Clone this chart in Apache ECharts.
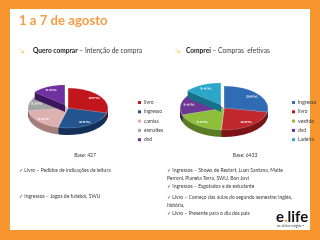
<!DOCTYPE html>
<html>
<head>
<meta charset="utf-8">
<script src="https://cdn.jsdelivr.net/npm/echarts@6/dist/echarts.min.js"></script>
<style>
  body { margin: 0; }
  #main { position: absolute; left: 0; top: 0; width: 320px; height: 240px; }
  .pie { position: absolute; top: 70px; height: 180px; transform-origin: 0 0; transform: scaleY(0.5); }
  #pieLeft { left: 20px; width: 100px; }
  #pieRight { left: 170px; width: 110px; }
</style>
</head>
<body>
<div id="main"></div>
<div id="pieLeft" class="pie"></div>
<div id="pieRight" class="pie"></div>
<script>
// Quero comprar
const leftNames = ['livro', 'ingresso', 'camisa', 'esmaltes', 'dvd'];
const leftValues = [29, 25, 19, 13, 14];
const leftTop = ['#c2161d', '#24548f', '#ddb1b0', '#a5a5a5', '#7030a0'];
const leftSide = ['#760b0f', '#14315a', '#a57d7c', '#4a4a4a', '#3e185e'];

// Comprei
const rightNames = ['Ingresso', 'livro', 'vestido', 'dvd', 'Ladeira'];
const rightValues = [28, 23, 19, 16, 14];
const rightTop = ['#2f6cb4', '#c1282d', '#8dbf3d', '#6b3995', '#2ba8c9'];
const rightSide = ['#1b4476', '#7c1418', '#5a7c24', '#40215c', '#16718a'];

const font = 'Lato, "Open Sans", sans-serif';
const orange = '#f7962f';
const textColor = '#3a3a3a';

function items(names, values, colors, selectLast) {
    return names.map((n, i) => ({
        name: n,
        value: values[i],
        selected: selectLast && i === names.length - 1,
        itemStyle: { color: colors[i] }
    }));
}

function pieOption(names, values, top, side, cx, cy, r) {
    let series = [];
    // side of the 3D pie, drawn as layers going down
    for (let k = 14; k > 0; k -= 2) {
        series.push({
            type: 'pie', radius: r, center: [cx, cy + k],
            startAngle: 90, selectedMode: 'multiple', selectedOffset: 7,
            label: { show: false }, labelLine: { show: false },
            silent: true, animation: false,
            data: items(names, values, side, true)
        });
    }
    series.push({
        type: 'pie', radius: r, center: [cx, cy],
        startAngle: 90, selectedMode: 'multiple', selectedOffset: 7,
        label: { show: false }, labelLine: { show: false },
        itemStyle: { borderColor: 'rgba(255,255,255,0.6)', borderWidth: 0.6 },
        silent: true, animation: false,
        data: items(names, values, top, true)
    });
    // labels only
    series.push({
        type: 'pie', radius: [r * 0.5, r], center: [cx, cy],
        startAngle: 90, selectedMode: 'multiple', selectedOffset: 7,
        label: { show: true, position: 'inside', formatter: '{c}%', color: '#fff', fontSize: 6, fontFamily: font, fontWeight: 'bold' },
        labelLine: { show: false },
        itemStyle: { color: 'transparent' },
        silent: true, animation: false,
        data: items(names, values, names.map(() => 'transparent'), true)
    });
    return { series };
}

echarts.init(document.getElementById('pieLeft')).setOption(
    pieOption(leftNames, leftValues, leftTop, leftSide, 48, 76, 40));
echarts.init(document.getElementById('pieRight')).setOption(
    pieOption(rightNames, rightValues, rightTop, rightSide, 54, 76, 44));

// main canvas: frame, texts, legends
const main = echarts.init(document.getElementById('main'));

function txt(x, y, text, extra) {
    return {
        type: 'text', x: x, y: y,
        style: Object.assign({ text: text, fill: textColor, fontSize: 5, fontFamily: font, verticalAlign: 'middle' }, extra || {})
    };
}

function legendOf(names, left) {
    return {
        orient: 'vertical', left: left, top: 95,
        icon: 'rect', itemWidth: 3, itemHeight: 3, itemGap: 4.3,
        textStyle: { fontSize: 5, color: textColor, fontFamily: font, padding: [0, 0, 0, -2] },
        data: names
    };
}

main.setOption({
    backgroundColor: orange,
    legend: [legendOf(leftNames, 133), legendOf(rightNames, 287)],
    series: [
        { type: 'pie', radius: 0, center: [-50, -50], label: { show: false }, silent: true, animation: false,
          data: items(leftNames, leftValues, leftTop, false) },
        { type: 'pie', radius: 0, center: [-50, -50], label: { show: false }, silent: true, animation: false,
          data: items(rightNames, rightValues, rightTop, false) }
    ],
    graphic: [
        { type: 'rect', shape: { x: 10, y: 9, width: 300, height: 221 }, style: { fill: '#fff' }, z: -1 },
        txt(19, 21, '1 a 7 de agosto', { fill: '#f29c45', fontSize: 13.2, fontWeight: 'bold' }),
        txt(19, 51, '\u2198', { fill: '#f2c23c', fontSize: 7 }),
        txt(33, 51, '{b|Quero comprar} \u2013 Intenção de compra', {
            fontSize: 6.6, rich: { b: { fontWeight: 'bold', fontSize: 6.6, fontFamily: font, fill: '#1a1a1a' } }
        }),
        txt(175, 51, '\u2198', { fill: '#f2c23c', fontSize: 7 }),
        txt(186, 51, '{b|Comprei} \u2013 Compras  efetivas', {
            fontSize: 6.6, rich: { b: { fontWeight: 'bold', fontSize: 6.6, fontFamily: font, fill: '#1a1a1a' } }
        }),
        txt(85, 155, 'Base: 427', { align: 'center' }),
        txt(245, 155, 'Base: 6433', { align: 'center' }),
        txt(19, 170, '\u2713 Livro \u2013 Pedidos de indicações de leitura'),
        txt(19, 196, '\u2713 Ingressos \u2013 Jogos de futebol, SWU'),
        txt(167, 170, '\u2713 Ingressos \u2013 Shows de Restart, Luan Santana, Maite'),
        txt(167, 178, 'Perroni, Planeta Terra, SWU, Bon Jovi'),
        txt(167, 186, '\u2713 Ingressos \u2013 Esgotados e de estudante'),
        txt(167, 197, '\u2713 Livro \u2013 Começo das aulas do segundo semestre: inglês,'),
        txt(167, 205, 'história,'),
        txt(167, 213, '\u2713 Livro \u2013 Presente para o dia dos pais'),
        txt(276, 217, 'e{o|.}life', {
            fill: '#111', fontSize: 15, fontWeight: 'bold',
            rich: { o: { fill: orange, fontSize: 15, fontWeight: 'bold', fontFamily: font } }
        }),
        txt(277, 226, 'we deliver insights \u2122', { fontSize: 3 })
    ]
});
</script>
</body>
</html>
